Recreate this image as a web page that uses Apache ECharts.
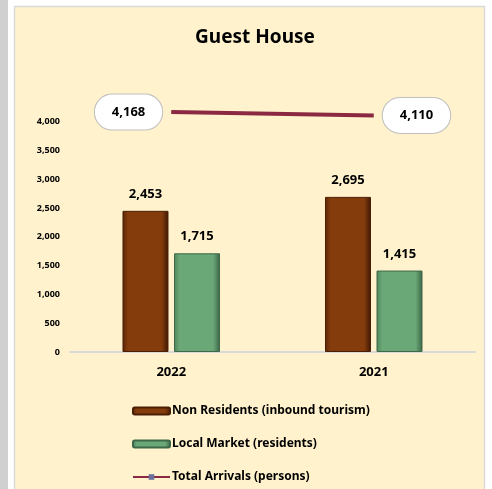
<!DOCTYPE html>
<html>
<head>
<meta charset="utf-8">
<style>
  html, body { margin: 0; padding: 0; background: #ffffff; }
  #chart { width: 492px; height: 489px; }
</style>
<script src="https://cdn.jsdelivr.net/npm/echarts@6/dist/echarts.min.js"></script>
</head>
<body>
<div id="chart"></div>
<script>
// data
const years = ['2022', '2021'];
const nonResidents = [2453, 2695];
const localMarket = [1715, 1415];
const totalArrivals = [4168, 4110];
const seriesNames = ['Non Residents (inbound tourism)', 'Local Market (residents)', 'Total Arrivals (persons)'];

const font = '"Noto Sans", "Open Sans", sans-serif';
const fmt = (v) => Number(v).toLocaleString('en-US');

const myChart = echarts.init(document.getElementById('chart'));

// 柱子的渐变（立体感）
function barGradient(edge, mid, dark) {
  return new echarts.graphic.LinearGradient(0, 0, 1, 0, [
    { offset: 0, color: edge },
    { offset: 0.12, color: mid },
    { offset: 0.85, color: mid },
    { offset: 1, color: dark },
  ]);
}

// 椭圆形标签
const ellipseLabel = (pos) => ({
  show: true,
  position: pos,
  distance: 9,
  formatter: (p) => fmt(p.value),
  color: '#000',
  fontFamily: font,
  fontWeight: 'bold',
  fontSize: 13,
  backgroundColor: '#ffffff',
  borderColor: '#bfbfbf',
  borderWidth: 1,
  borderRadius: 20,
  padding: [11, 17],
});

const option = {
  animation: false,
  backgroundColor: '#ffffff',
  graphic: [
    { type: 'rect', z: -10, shape: { x: 0, y: 0, width: 8, height: 489 }, style: { fill: '#d0d0d0' } },
    { type: 'rect', z: -10, shape: { x: 14.5, y: 6.5, width: 470, height: 490 }, style: { fill: '#fff2cc', stroke: '#d9d9d9', lineWidth: 1.5 } },
  ],
  title: {
    text: 'Guest House',
    left: 250,
    textAlign: 'center',
    top: 23,
    textStyle: { fontFamily: font, fontWeight: 'bold', fontSize: 19, color: '#000' },
  },
  legend: {
    orient: 'vertical',
    left: 132,
    top: 405,
    height: 100,
    padding: 0,
    itemGap: 21,
    itemWidth: 37,
    itemHeight: 7,
    textStyle: { fontFamily: font, fontWeight: 'bold', fontSize: 12, color: '#000', padding: [0, 0, 0, -3] },
    data: seriesNames,
  },
  grid: { left: 70, right: 17, top: 93, bottom: 137 },
  xAxis: {
    type: 'category',
    data: years,
    axisTick: { show: false },
    axisLine: { lineStyle: { color: '#d9d9d9', width: 2 } },
    axisLabel: { fontFamily: font, fontWeight: 'bold', fontSize: 13, color: '#000', margin: 14 },
  },
  yAxis: {
    type: 'value',
    min: 0,
    max: 4500,
    interval: 500,
    splitLine: { show: false },
    axisLine: { show: false },
    axisTick: { show: false },
    axisLabel: {
      fontFamily: font,
      fontWeight: 'bold',
      fontSize: 9,
      color: '#000',
      margin: 10,
      formatter: (v) => (v > 4000 ? '' : fmt(v)),
    },
  },
  series: [
    {
      name: seriesNames[0],
      type: 'bar',
      data: nonResidents,
      barWidth: 46,
      barGap: '12%',
      itemStyle: {
        color: barGradient('#5a2707', '#843c0c', '#3d1804'),
        borderColor: '#4a1f06',
        borderWidth: 1,
      },
      label: {
        show: true,
        position: 'top',
        distance: 10,
        formatter: (p) => fmt(p.value),
        fontFamily: font,
        fontWeight: 'bold',
        fontSize: 13,
        color: '#000',
      },
    },
    {
      name: seriesNames[1],
      type: 'bar',
      data: localMarket,
      barWidth: 46,
      itemStyle: {
        color: barGradient('#4e8259', '#6aa878', '#3b6445'),
        borderColor: '#3f6848',
        borderWidth: 1,
      },
      label: {
        show: true,
        position: 'top',
        distance: 10,
        formatter: (p) => fmt(p.value),
        fontFamily: font,
        fontWeight: 'bold',
        fontSize: 13,
        color: '#000',
      },
    },
    {
      name: seriesNames[2],
      type: 'line',
      symbol: 'rect',
      symbolSize: 8,
      showSymbol: true,
      itemStyle: { color: '#6b6f9a' },
      lineStyle: { color: '#8b2942', width: 4 },
      data: [
        { value: totalArrivals[0], symbolSize: 0, label: ellipseLabel('left') },
        { value: totalArrivals[1], symbolSize: 0, label: ellipseLabel('right') },
      ],
    },
  ],
};

option && myChart.setOption(option);
</script>
</body>
</html>
